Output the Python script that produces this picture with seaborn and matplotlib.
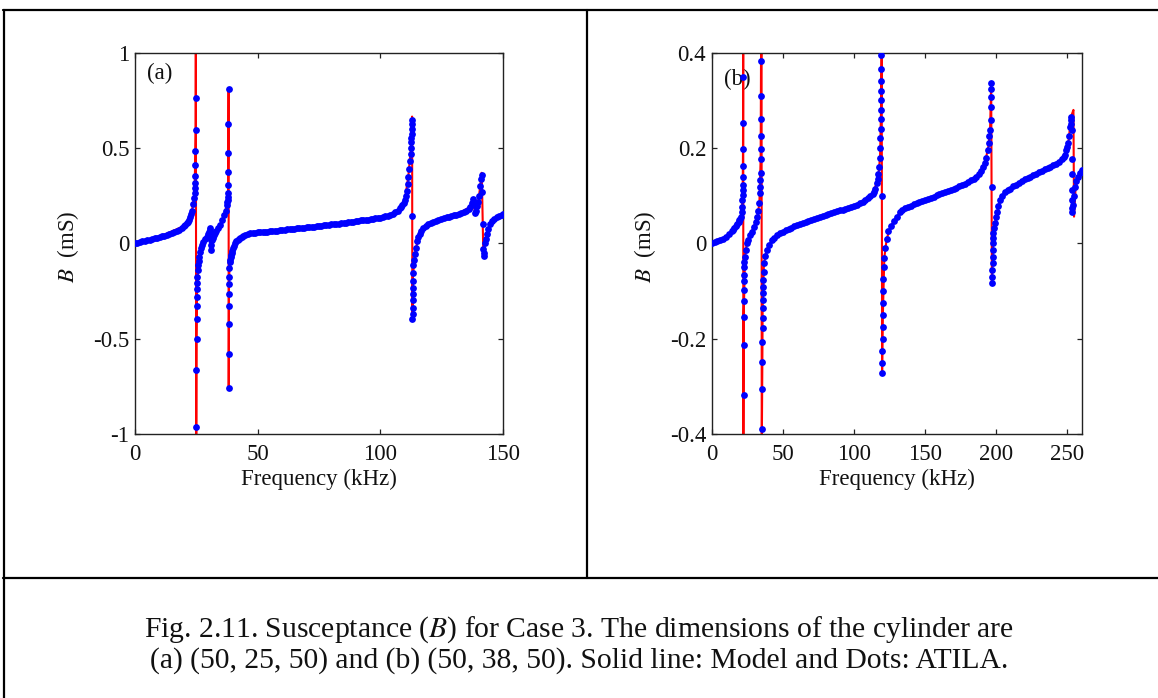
import matplotlib
matplotlib.use("Agg")
import matplotlib.pyplot as plt
import seaborn as sns
from matplotlib.lines import Line2D

# ---------------- Panel (a): model (red line) ----------------
model_freq_a = [0, 10, 20, 23, 24.3, 24.7, 24.8, 24.95, 25.1, 25.3,
                26.0, 27.8, 29.2, 30.1, 30.7, 30.9, 31.2, 32.6, 34.7, 36.3,
                37.4, 37.9, 38.1, 38.15, 38.2, 38.3, 38.6, 39.4, 40.8, 42.8,
                46.9, 60, 80, 100, 105, 108, 110, 111.4, 112.4, 112.9,
                112.95, 113.05, 113.3, 114.1, 115.5, 117.5, 121.6, 127, 132, 136.6,
                137.9, 138.6, 139.9, 140.7, 141.3, 141.5, 142.0, 142.6, 143.5, 144.7,
                147.4, 150]
model_B_a = [0.000, 0.034, 0.091, 0.153, 0.264, 0.595, 1.200, -1.200, -0.500, -0.240,
             -0.090, 0.008, 0.035, 0.061, 0.079, -0.035, 0.017, 0.052, 0.096, 0.148,
             0.200, 0.245, 0.625, 0.810, -0.757, -0.214, -0.100, -0.050, 0.000, 0.026,
             0.052, 0.070, 0.099, 0.135, 0.156, 0.184, 0.228, 0.350, 0.490, 0.647,
             0.665, -0.400, -0.170, -0.055, 0.035, 0.079, 0.113, 0.136, 0.155, 0.192,
             0.232, 0.157, 0.215, 0.300, 0.370, 0.270, -0.070, 0.000, 0.050, 0.100,
             0.140, 0.153]

# ---------------- Panel (a): ATILA (blue dots) ----------------
atila_freq_a = [0, 1, 2, 3, 4, 5, 6, 7, 8, 9,
                10, 11, 12, 13, 14, 15, 16, 17, 18, 19,
                20, 20.5, 21, 21.5, 22, 22.5, 23, 23.4, 23.8, 24.1,
                24.3, 24.4, 24.5, 24.55, 24.6, 24.65, 24.7, 24.75, 25.0, 25.05,
                25.1, 25.15, 25.2, 25.25, 25.3, 25.35, 25.45, 25.6, 25.8, 26.0,
                26.2, 26.5, 26.9, 27.3, 27.8, 28.5, 29.2, 29.7, 30.1, 30.4,
                30.7, 30.8, 30.9, 31.0, 31.2, 31.6, 32.1, 32.6, 33.2, 33.9,
                34.7, 35.5, 36.3, 36.9, 37.4, 37.6, 37.8, 37.9, 37.95, 38.0,
                38.03, 38.06, 38.1, 38.13, 38.2, 38.22, 38.24, 38.26, 38.28, 38.3,
                38.35, 38.45, 38.6, 38.8, 39.0, 39.2, 39.4, 39.7, 40.0, 40.4,
                40.8, 41.3, 41.8, 42.3, 42.8, 43.5, 44.2, 45, 46, 47,
                48, 49, 50, 51, 52, 53, 54, 55, 56, 57,
                58, 59, 60, 61, 62, 63, 64, 65, 66, 67,
                68, 69, 70, 71, 72, 73, 74, 75, 76, 77,
                78, 79, 80, 81, 82, 83, 84, 85, 86, 87,
                88, 89, 90, 91, 92, 93, 94, 95, 96, 97,
                98, 99, 100, 101, 102, 103, 104, 105, 106, 107,
                108, 108.5, 109, 109.5, 110, 110.4, 110.8, 111.1, 111.4, 111.7,
                112, 112.3, 112.5, 112.6, 112.7, 112.75, 112.8, 112.85, 112.9, 113.0,
                113.1, 113.12, 113.14, 113.17, 113.2, 113.23, 113.27, 113.33, 113.45, 113.7,
                114.1, 114.5, 115, 115.5, 116, 116.7, 117.5, 118.5, 119.5, 120.5,
                121.6, 122.6, 123.7, 124.8, 126, 127, 128, 129, 130, 131,
                132, 133, 134, 135, 136, 136.6, 137.2, 137.9, 138.2, 138.6,
                139.0, 139.5, 139.9, 140.3, 140.7, 141.0, 141.3, 141.5, 141.7, 141.9,
                142.1, 142.3, 142.6, 143.0, 143.5, 144.0, 144.7, 145.5, 146.5, 147.4,
                148.5, 149.5, 150]
atila_B_a = [0.000, 0.003, 0.006, 0.010, 0.013, 0.016, 0.020, 0.023, 0.027, 0.030,
             0.034, 0.037, 0.040, 0.044, 0.048, 0.053, 0.058, 0.064, 0.071, 0.080,
             0.091, 0.098, 0.105, 0.113, 0.124, 0.137, 0.153, 0.172, 0.205, 0.237,
             0.264, 0.290, 0.318, 0.355, 0.410, 0.485, 0.595, 0.765, -0.962, -0.665,
             -0.500, -0.395, -0.327, -0.280, -0.240, -0.210, -0.175, -0.140, -0.115, -0.090,
             -0.070, -0.045, -0.026, -0.010, 0.008, 0.022, 0.035, 0.048, 0.061, 0.072,
             0.079, 0.020, -0.035, -0.010, 0.017, 0.030, 0.042, 0.052, 0.064, 0.079,
             0.096, 0.120, 0.148, 0.172, 0.200, 0.215, 0.227, 0.245, 0.264, 0.305,
             0.375, 0.475, 0.625, 0.810, -0.757, -0.580, -0.424, -0.330, -0.264, -0.214,
             -0.177, -0.130, -0.100, -0.085, -0.070, -0.060, -0.050, -0.038, -0.026, -0.013,
             0.000, 0.010, 0.017, 0.022, 0.026, 0.032, 0.037, 0.042, 0.047, 0.052,
             0.054, 0.056, 0.057, 0.058, 0.060, 0.061, 0.062, 0.064, 0.065, 0.066,
             0.067, 0.069, 0.070, 0.071, 0.073, 0.074, 0.075, 0.077, 0.078, 0.080,
             0.081, 0.082, 0.084, 0.085, 0.087, 0.088, 0.090, 0.091, 0.093, 0.094,
             0.096, 0.097, 0.099, 0.100, 0.102, 0.104, 0.105, 0.107, 0.109, 0.110,
             0.112, 0.114, 0.116, 0.118, 0.120, 0.122, 0.124, 0.125, 0.127, 0.129,
             0.131, 0.133, 0.135, 0.138, 0.141, 0.145, 0.150, 0.156, 0.163, 0.172,
             0.184, 0.192, 0.201, 0.213, 0.228, 0.248, 0.275, 0.310, 0.350, 0.390,
             0.430, 0.470, 0.500, 0.530, 0.550, 0.575, 0.600, 0.625, 0.647, 0.145,
             -0.397, -0.370, -0.340, -0.297, -0.265, -0.235, -0.200, -0.157, -0.114, -0.085,
             -0.055, -0.025, 0.010, 0.035, 0.050, 0.066, 0.079, 0.090, 0.099, 0.106,
             0.113, 0.118, 0.123, 0.127, 0.132, 0.136, 0.140, 0.144, 0.148, 0.151,
             0.155, 0.159, 0.164, 0.170, 0.180, 0.192, 0.210, 0.232, 0.200, 0.157,
             0.170, 0.195, 0.215, 0.250, 0.300, 0.340, 0.360, 0.270, 0.100, -0.030,
             -0.065, -0.050, 0.000, 0.025, 0.050, 0.075, 0.100, 0.115, 0.130, 0.140,
             0.146, 0.151, 0.153]

# ---------------- Panel (b): model (red line) ----------------
model_freq_b = [0, 8.2, 15.2, 18.7, 20.6, 21.3, 21.8, 22.0, 22.15, 22.25,
                22.5, 23.4, 24.6, 26.9, 29.7, 32.1, 33.5, 34.4, 34.65, 35.05,
                35.15, 35.6, 35.8, 36.7, 38.6, 42.2, 48, 59.7, 71.4, 83.1,
                94.9, 106.6, 113.6, 117.1, 118.3, 119.0, 119.45, 119.75, 120.2, 121.3,
                123, 126, 132.3, 144.1, 155.7, 167.4, 179.2, 187.3, 192, 194.4,
                195.6, 196.4, 196.9, 197.6, 199.1, 202.6, 209.6, 221.4, 233, 242.4,
                248.3, 250.6, 251.8, 253.0, 254.2, 254.6, 255.6, 257.2, 260]
model_B_b = [0.000, 0.0105, 0.028, 0.042, 0.056, 0.077, 0.112, 0.200, 0.450, -0.450,
             -0.155, -0.028, 0.000, 0.0175, 0.035, 0.056, 0.084, 0.178, 0.382, 0.450,
             -0.450, -0.248, -0.136, -0.042, -0.014, 0.007, 0.021, 0.038, 0.052, 0.063,
             0.073, 0.087, 0.105, 0.140, 0.182, 0.280, 0.410, -0.272, -0.160, -0.030,
             0.010, 0.037, 0.066, 0.084, 0.098, 0.112, 0.127, 0.143, 0.168, 0.203,
             0.238, 0.336, -0.084, 0.000, 0.042, 0.091, 0.115, 0.136, 0.154, 0.168,
             0.185, 0.210, 0.245, 0.270, 0.280, 0.056, 0.110, 0.140, 0.154]

# ---------------- Panel (b): ATILA (blue dots) ----------------
atila_freq_b = [0, 2, 4, 6, 8, 10, 12, 14, 15, 16,
                17, 18, 19, 19.5, 20, 20.5, 21, 21.3, 21.5, 21.7,
                21.8, 21.85, 21.9, 21.95, 22.0, 22.05, 22.1, 22.4, 22.45, 22.5,
                22.55, 22.6, 22.65, 22.7, 22.8, 23.0, 23.4, 24.0, 24.6, 25.5,
                26.9, 28, 29.7, 31, 32.1, 32.8, 33.5, 33.9, 34.1, 34.2,
                34.3, 34.4, 34.45, 34.5, 34.55, 34.6, 34.65, 35.5, 35.55, 35.6,
                35.65, 35.7, 35.75, 35.8, 35.85, 35.9, 36.0, 36.2, 36.4, 36.7,
                37.5, 38.6, 40, 42.2, 44, 46, 48, 50, 52, 54,
                56, 58, 60, 62, 64, 66, 68, 70, 72, 74,
                76, 78, 80, 82, 84, 86, 88, 90, 92, 94,
                96, 98, 100, 102, 104, 106, 108, 110, 111.5, 113,
                114, 115, 116, 116.7, 117.2, 117.7, 118.1, 118.4, 118.6, 118.8,
                118.9, 119.0, 119.1, 119.15, 119.2, 119.25, 119.3, 119.6, 119.9, 119.95,
                120.0, 120.05, 120.1, 120.15, 120.25, 120.4, 120.6, 120.9, 121.3, 122,
                123, 124.2, 126, 128, 130, 132.3, 134, 136, 138, 140,
                142, 144, 146, 148, 150, 152, 154, 156, 158, 160,
                162, 164, 166, 168, 170, 172, 174, 176, 178, 180,
                182, 184, 186, 187.5, 189, 190.5, 192, 193, 194, 194.6,
                195.2, 195.6, 196, 196.2, 196.3, 196.35, 196.4, 196.8, 197.2, 197.25,
                197.3, 197.35, 197.4, 197.5, 197.6, 197.8, 198.0, 198.5, 199.1, 199.8,
                200.5, 201.5, 202.6, 204, 206, 208, 209.6, 212, 214, 216,
                218, 220, 222, 224, 226, 228, 230, 232, 234, 236,
                238, 240, 242, 244, 246, 247.5, 248.3, 249.3, 250, 250.6,
                251.2, 251.8, 252.2, 252.5, 252.7, 252.9, 253.0, 253.1, 253.2, 253.3,
                253.4, 253.5, 253.8, 254.3, 255.3, 256.2, 257.2, 258.5, 260]
atila_B_b = [0.000, 0.002, 0.005, 0.007, 0.010, 0.014, 0.019, 0.025, 0.028, 0.032,
             0.036, 0.040, 0.045, 0.048, 0.052, 0.056, 0.065, 0.077, 0.090, 0.101,
             0.112, 0.122, 0.140, 0.162, 0.198, 0.252, 0.350, -0.318, -0.213, -0.155,
             -0.120, -0.097, -0.080, -0.066, -0.050, -0.040, -0.028, -0.013, 0.000, 0.008,
             0.0175, 0.024, 0.035, 0.044, 0.056, 0.068, 0.084, 0.105, 0.119, 0.133,
             0.147, 0.178, 0.199, 0.225, 0.260, 0.310, 0.382, -0.390, -0.306, -0.248,
             -0.206, -0.178, -0.157, -0.136, -0.119, -0.105, -0.091, -0.077, -0.060, -0.042,
             -0.027, -0.014, -0.004, 0.007, 0.012, 0.017, 0.021, 0.024, 0.027, 0.030,
             0.033, 0.036, 0.038, 0.041, 0.043, 0.045, 0.047, 0.050, 0.052, 0.054,
             0.056, 0.058, 0.060, 0.062, 0.064, 0.065, 0.067, 0.069, 0.071, 0.072,
             0.074, 0.076, 0.079, 0.081, 0.084, 0.087, 0.090, 0.095, 0.099, 0.103,
             0.108, 0.115, 0.126, 0.135, 0.145, 0.160, 0.180, 0.200, 0.220, 0.240,
             0.260, 0.280, 0.300, 0.320, 0.340, 0.365, 0.395, 0.100, -0.272, -0.250,
             -0.225, -0.200, -0.175, -0.150, -0.125, -0.100, -0.075, -0.050, -0.030, -0.010,
             0.010, 0.025, 0.037, 0.047, 0.056, 0.066, 0.070, 0.074, 0.077, 0.079,
             0.082, 0.084, 0.087, 0.089, 0.092, 0.094, 0.096, 0.098, 0.101, 0.103,
             0.105, 0.107, 0.110, 0.112, 0.115, 0.117, 0.120, 0.122, 0.125, 0.128,
             0.132, 0.135, 0.140, 0.145, 0.152, 0.160, 0.168, 0.180, 0.195, 0.210,
             0.225, 0.238, 0.259, 0.287, 0.308, 0.323, 0.336, 0.118, -0.084, -0.070,
             -0.056, -0.042, -0.028, -0.014, 0.000, 0.011, 0.022, 0.033, 0.042, 0.055,
             0.066, 0.078, 0.091, 0.100, 0.107, 0.112, 0.115, 0.120, 0.123, 0.127,
             0.130, 0.134, 0.137, 0.140, 0.143, 0.146, 0.149, 0.152, 0.155, 0.158,
             0.161, 0.164, 0.167, 0.171, 0.176, 0.181, 0.185, 0.195, 0.202, 0.210,
             0.225, 0.245, 0.258, 0.266, 0.250, 0.238, 0.178, 0.145, 0.112, 0.091,
             0.075, 0.066, 0.080, 0.100, 0.119, 0.130, 0.140, 0.148, 0.154]

# ---------------- Axis ticks / text ----------------
xticks_a = [0, 50, 100, 150]
yticks_a = [-1, -0.5, 0, 0.5, 1]
yticklabels_a = ["-1", "-0.5", "0", "0.5", "1"]
xticks_b = [0, 50, 100, 150, 200, 250]
yticks_b = [-0.4, -0.2, 0, 0.2, 0.4]
yticklabels_b = ["-0.4", "-0.2", "0", "0.2", "0.4"]
caption_lines = [
    "Fig. 2.11. Susceptance ($B$) for Case 3. The dimensions of the cylinder are",
    "(a) (50, 25, 50) and (b) (50, 38, 50). Solid line: Model and Dots: ATILA.",
]

sns.set_theme(style="ticks")
plt.rcParams["font.family"] = ["Liberation Serif", "DejaVu Serif"]
plt.rcParams["mathtext.fontset"] = "stix"

W, H = 1158, 698
fig = plt.figure(figsize=(W / 100, H / 100), dpi=100)
fig.patch.set_facecolor("white")

FS = 16.5


def px_box(x0, y0, x1, y1):
    return [x0 / W, 1 - y1 / H, (x1 - x0) / W, (y1 - y0) / H]


axA = fig.add_axes(px_box(135, 52.7, 503, 434))
axB = fig.add_axes(px_box(711.7, 52.7, 1081.7, 434))


def draw_panel(ax, mf, mb, af, ab, xlim, ylim, xt, yt, ytl, tag, tagy):
    sns.lineplot(x=mf, y=mb, ax=ax, color="#ff0000", linewidth=1.5,
                 sort=False, estimator=None, zorder=2)
    sns.scatterplot(x=af, y=ab, ax=ax, color="#0000ff", s=24, linewidth=0,
                    zorder=3)
    ax.set_xlim(*xlim)
    ax.set_ylim(*ylim)
    ax.set_xticks(xt)
    ax.set_xticklabels([str(v) for v in xt])
    ax.set_yticks(yt)
    ax.set_yticklabels(ytl)
    for s in ax.spines.values():
        s.set_visible(True)
        s.set_color("#222222")
        s.set_linewidth(1.0)
    ax.tick_params(direction="in", top=True, right=True, length=3.5, width=0.9,
                   colors="#222222", labelsize=FS, labelcolor="#111111")
    ax.tick_params(axis="x", pad=7)
    ax.tick_params(axis="y", pad=4)
    ax.set_xlabel("Frequency (kHz)", fontsize=FS, color="#111111")
    ax.set_ylabel("$B$  (mS)", fontsize=FS, color="#111111")
    ax.xaxis.set_label_coords(0.5, -0.092)
    ax.yaxis.set_label_coords(-0.146, 0.49)
    ax.text(0.033, tagy, tag, transform=ax.transAxes, fontsize=FS,
            ha="left", va="center", color="#111111", zorder=1)
    ax.set_facecolor("white")
    ax.grid(False)


draw_panel(axA, model_freq_a, model_B_a, atila_freq_a, atila_B_a,
           (0, 150), (-1, 1), xticks_a, yticks_a, yticklabels_a, "(a)", 0.945)
draw_panel(axB, model_freq_b, model_B_b, atila_freq_b, atila_B_b,
           (0, 260), (-0.4, 0.4), xticks_b, yticks_b, yticklabels_b, "(b)", 0.93)

# table borders
lw = 1.6
def hline(y, x0, x1):
    fig.add_artist(Line2D([x0 / W, x1 / W], [1 - y / H, 1 - y / H],
                          color="black", linewidth=lw))
def vline(x, y0, y1):
    fig.add_artist(Line2D([x / W, x / W], [1 - y0 / H, 1 - y1 / H],
                          color="black", linewidth=lw))

hline(10, 3, W)
hline(578, 3, W)
vline(4, 10, H)
vline(587, 10, 578)

fig.text(0.5, 1 - 629.5 / H, caption_lines[0], ha="center", va="center",
         fontsize=21.3, color="#111111")
fig.text(0.5, 1 - 660.5 / H, caption_lines[1], ha="center", va="center",
         fontsize=21.3, color="#111111")

fig.savefig("out.png", dpi=100, facecolor="white")
